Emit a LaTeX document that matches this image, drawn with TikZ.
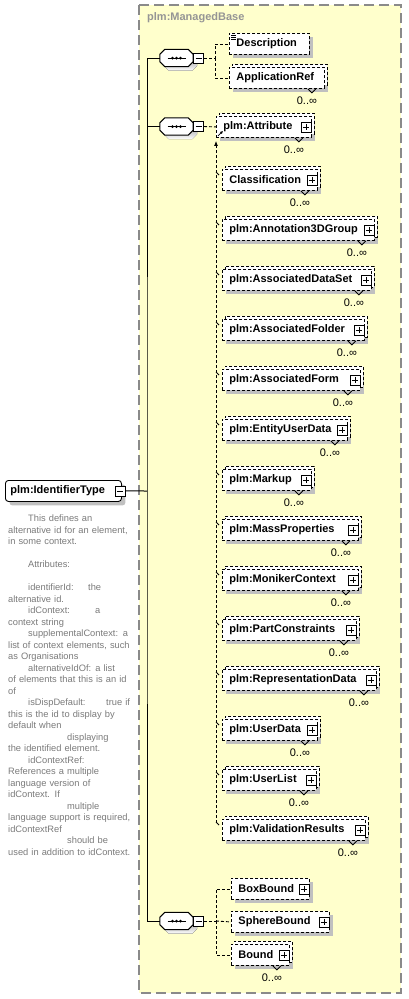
\documentclass[tikz,border=0pt]{standalone}
\usepackage{fontspec}
\setmainfont{Liberation Sans}
\usepackage{tikz}
\usetikzlibrary{arrows.meta,positioning,shadows,calc}
\definecolor{basefill}{HTML}{FFFFCC}
\definecolor{baseedge}{HTML}{8A8A8A}
\definecolor{mbgray}{HTML}{959595}
\definecolor{shade}{HTML}{C0C0C0}
\definecolor{docgray}{HTML}{7A7A7A}
\newcommand{\elemfont}{\fontsize{11}{13}\selectfont\bfseries}
\newcommand{\multfont}{\fontsize{11}{13}\selectfont}
\newcommand{\docfont}{\fontsize{9.3}{11.5}\selectfont}
\newcommand{\occurs}[1]{%
  \draw[notch] ([xshift=-17pt]#1.south east) -- ++(4pt,-4pt) -- ++(4pt,4pt);
  \node[mult] (#1-n) at ([xshift=-18pt,yshift=-12pt]#1.south east) {0..∞};}
\newcommand{\octpath}[1]{([xshift=5pt]#1.north west) -- ([xshift=-5pt]#1.north east)
  -- ([yshift=-5pt]#1.north east) -- ([yshift=5pt]#1.south east)
  -- ([xshift=-5pt]#1.south east) -- ([xshift=5pt]#1.south west)
  -- ([yshift=5pt]#1.south west) -- ([yshift=-5pt]#1.north west) -- cycle}
\newcommand{\seqshape}[1]{%
  \fill[shade, transform canvas={shift={(4pt,-4pt)}}] \octpath{#1};
  \draw[link, fill=white] \octpath{#1};
  \draw[link] ([xshift=-9pt]#1.center) -- ([xshift=9pt]#1.center);
  \foreach \d in {-4,0,4}
    \fill ([xshift=\d pt]#1.center) circle (1.5pt);}
\tikzset{
  elem/.style={
    draw, dash pattern=on 3pt off 2pt, line width=0.9pt, fill=white,
    anchor=north west, minimum height=21pt, inner xsep=7pt, inner ysep=0pt,
    align=left, font=\elemfont,
    drop shadow={shadow xshift=4pt, shadow yshift=-4pt, fill=shade, opacity=1, draw=none}
  },
  multi/.style={
    copy shadow={shadow xshift=3pt, shadow yshift=3pt, draw, fill=white,
      dash pattern=on 3pt off 2pt}
  },
  plusbox/.style={
    draw, solid, line width=0.8pt, fill=white, minimum size=10pt, inner sep=0pt,
    path picture={\draw[line width=0.8pt]
      ([yshift=-2pt]path picture bounding box.north) -- ([yshift=2pt]path picture bounding box.south)
      ([xshift=2pt]path picture bounding box.west) -- ([xshift=-2pt]path picture bounding box.east);}
  },
  minusbox/.style={
    draw, solid, line width=0.8pt, fill=white, minimum size=10pt, inner sep=0pt,
    path picture={\draw[line width=0.8pt]
      ([xshift=2pt]path picture bounding box.west) -- ([xshift=-2pt]path picture bounding box.east);}
  },
  seq/.style={minimum width=33pt, minimum height=17pt, inner sep=0pt},
  mult/.style={font=\multfont, inner sep=0pt},
  notch/.style={line width=0.8pt},
  link/.style={line width=1pt},
  dlink/.style={line width=0.9pt, dash pattern=on 3pt off 2pt},
  subst/.style={dlink, -{Latex[length=5pt,width=4pt]}},
}

\begin{document}
\begin{tikzpicture}[x=1pt, y=-1pt]
    \useasboundingbox (0,0) rectangle (408,999);
    \fill[basefill] (139,5) rectangle (401,993);
    \draw[baseedge, line width=1.8pt, dash pattern=on 10pt off 5pt] (139,5) rectangle (401,993);
    \node[font=\elemfont, text=mbgray, anchor=west, inner sep=0pt] (mb) at (147,18) {plm:ManagedBase};

    \node[elem, solid, rounded corners=3pt, text width=106pt, inner xsep=5pt] (idt) at (5,480) {plm:IdentifierType};
    \node[minusbox] (idt-m) at ([xshift=-2pt]idt.east) {};
    \node[anchor=north west, inner sep=0pt, text width=135pt, align=left, font=\docfont, text=docgray] (idt-doc) at (8,515) {%
      \hspace*{20pt}This defines an\\
      alternative id for an element,\\
      in some context.\\
      \mbox{}\\
      \hspace*{20pt}Attributes:\\
      \mbox{}\\
      \hspace*{20pt}\makebox[60pt][l]{identifierId:}the\\
      alternative id.\\
      \hspace*{20pt}\makebox[67pt][l]{idContext:}a\\
      context string\\
      \hspace*{20pt}supplementalContext: a\\
      list of context elements, such\\
      as Organisations\\
      \hspace*{20pt}alternativeIdOf:\hspace{4pt}a list\\
      of elements that this is an id\\
      of\\
      \hspace*{20pt}\makebox[78pt][l]{isDispDefault:}true if\\
      this is the id to display by\\
      default when\\
      \hspace*{59pt}displaying\\
      the identified element.\\
      \hspace*{20pt}idContextRef:\\
      References a multiple\\
      language version of\\
      idContext. If\\
      \hspace*{59pt}multiple\\
      language support is required,\\
      idContextRef\\
      \hspace*{59pt}should be\\
      used in addition to idContext.};

    \node[seq] (seq1) at (176.5,58) {};
    \seqshape{seq1}
    \node[minusbox, anchor=west] (seq1-m) at (seq1.east) {};
    \node[seq] (seq2) at (176.5,126.5) {};
    \seqshape{seq2}
    \node[minusbox, anchor=west] (seq2-m) at (seq2.east) {};
    \node[seq] (seq3) at (176.5,921) {};
    \seqshape{seq3}
    \node[minusbox, anchor=west] (seq3-m) at (seq3.east) {};

    \node[elem, text width=66pt] (desc) at (229,33) {Description};
    \node[elem, multi, text width=81pt] (appref) at (229,67) {ApplicationRef};

    \node[elem, multi, text width=81pt] (attr) at (216,116) {plm:Attribute};
    \node[elem, multi, text width=81pt] (class) at (222,169) {Classification};
    \node[elem, multi, text width=138pt] (annot) at (222,219) {plm:Annotation3DGroup};
    \node[elem, multi, text width=135pt] (dataset) at (222,269) {plm:AssociatedDataSet};
    \node[elem, multi, text width=128pt] (folder) at (222,319) {plm:AssociatedFolder};
    \node[elem, multi, text width=124pt] (form) at (222,369) {plm:AssociatedForm};
    \node[elem, multi, text width=111pt] (eud) at (222,419) {plm:EntityUserData};
    \node[elem, multi, text width=75pt] (markup) at (222,469) {plm:Markup};
    \node[elem, multi, text width=122pt] (mass) at (222,519) {plm:MassProperties};
    \node[elem, multi, text width=122pt] (moniker) at (222,569) {plm:MonikerContext};
    \node[elem, multi, text width=120pt] (partc) at (222,619) {plm:PartConstraints};
    \node[elem, multi, text width=140pt] (repr) at (222,669) {plm:RepresentationData};
    \node[elem, multi, text width=81pt] (userdata) at (222,719) {plm:UserData};
    \node[elem, multi, text width=80pt] (userlist) at (222,769) {plm:UserList};
    \node[elem, multi, text width=129pt] (valid) at (222,819) {plm:ValidationResults};

    \node[elem, text width=64pt] (boxb) at (231,878) {BoxBound};
    \node[elem, text width=84pt] (sphere) at (231,911) {SphereBound};
    \node[elem, multi, text width=44pt] (bound) at (231,944) {Bound};

    \foreach \n in {attr,class,annot,dataset,folder,form,eud,markup,mass,moniker,
                    partc,repr,userdata,userlist,valid,boxb,sphere,bound}
      \node[plusbox] (\n-p) at ([xshift=-6pt]\n.east) {};
    \foreach \n in {appref,attr,class,annot,dataset,folder,form,eud,markup,mass,
                    moniker,partc,repr,userdata,userlist,valid,bound}
      {\occurs{\n}}

    \draw[line width=0.6pt] ([xshift=2pt,yshift=-2pt]desc.north west) -- ++(5pt,0)
      ([xshift=2pt,yshift=-4pt]desc.north west) -- ++(5pt,0)
      ([xshift=2pt,yshift=-6pt]desc.north west) -- ++(5pt,0);
    \draw[notch, -{Latex[length=3pt,width=3pt]}] ([xshift=2pt,yshift=2pt]attr.south west) -- ++(5pt,5pt);

    \coordinate (trunk) at (147,491);
    \draw[link] (idt-m.east) -- (trunk);
    \draw[link] (seq1.west) -| (trunk) |- (seq3.west);
    \draw[link] (seq2.west) -- (seq2.west -| trunk);

    \coordinate (fork1) at (215,58);
    \draw[dlink] (seq1-m.east) -- (fork1) |- (desc.west);
    \draw[dlink] (fork1) |- (appref.west);
    \draw[dlink] (seq2-m.east) -- (attr.west);
    \coordinate (fork3) at (216,921);
    \draw[dlink] (seq3-m.east) -- (fork3) |- (boxb.west);
    \draw[dlink] (fork3) |- (bound.west);
    \draw[dlink] (fork3) -- (sphere.west);

    \draw[subst] ([xshift=-6pt,yshift=-4pt]valid.north west) -- ([yshift=-3pt]attr.south west);
    \foreach \n in {class,annot,dataset,folder,form,eud,markup,mass,moniker,
                    partc,repr,userdata,userlist,valid}
      \draw[notch] ([xshift=-6pt,yshift=-3pt]\n.north west) -- ++(3pt,-3pt);
  \end{tikzpicture}
\end{document}
